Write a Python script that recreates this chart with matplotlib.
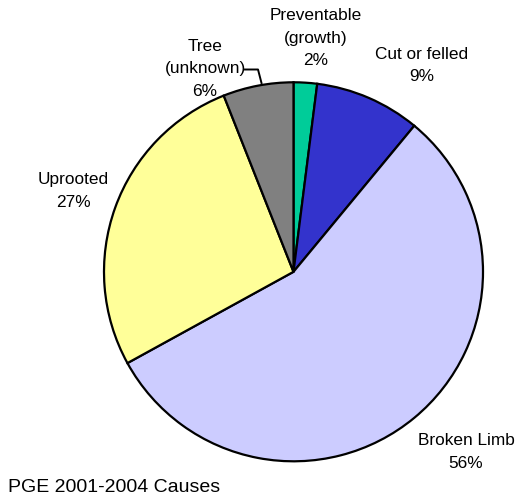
import matplotlib
matplotlib.use("Agg")
import matplotlib.pyplot as plt

plt.rcParams['font.family'] = ['Liberation Sans', 'DejaVu Sans']

categories = ["Preventable\n(growth)", "Cut or felled", "Broken Limb", "Uprooted", "Tree\n(unknown)"]
values = [2, 9, 56, 27, 6]
colors = ["#00CC99", "#3333CC", "#CCCCFF", "#FFFF99", "#808080"]
title = "PGE 2001-2004 Causes"

W, H = 516, 500
# label anchor points (pixel-style coords, y measured from the top)
label_pos = [(316, 38), (422, 65.5), (466, 452), (73, 191), (205, 69)]

fig = plt.figure(figsize=(W / 100, H / 100), dpi=100)
ax = fig.add_axes([0, 0, 1, 1])

ax.pie(values, colors=colors, startangle=90, counterclock=False,
       center=(293.5, H - 271.8), radius=189.5, frame=True,
       wedgeprops=dict(edgecolor="black", linewidth=1.6))
ax.set_xlim(0, W)
ax.set_ylim(0, H)
ax.set_aspect("equal")
ax.axis("off")

for name, v, (x, y) in zip(categories, values, label_pos):
    ax.text(x, H - y, f"{name}\n{v}%", ha="center", va="center",
            fontsize=12.4, linespacing=1.6, color="black")

# leader line for the "Tree (unknown)" label
ax.plot([245, 258, 261.5], [H - 69.5, H - 69.5, H - 83], color="black", lw=1.4)

ax.text(8, H - 487, title, ha="left", va="center", fontsize=14, color="black")

fig.savefig("out.png", dpi=100)
